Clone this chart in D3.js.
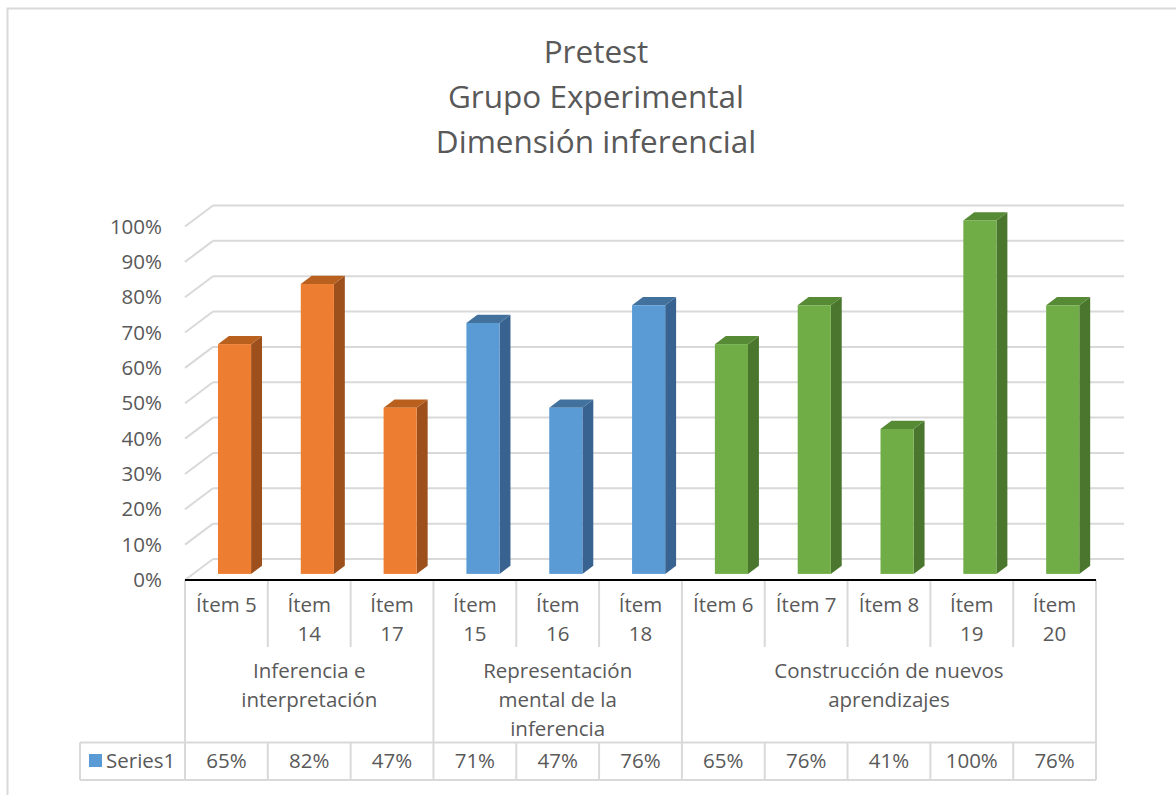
<!DOCTYPE html>
<html>
<head>
<meta charset="utf-8">
<script src="https://cdn.jsdelivr.net/npm/d3@7"></script>
<style>
  html, body { margin: 0; padding: 0; background: #fff; }
  svg { display: block; font-family: "Open Sans", Lato, sans-serif; }
</style>
</head>
<body>
<svg id="chart" width="1176" height="795"></svg>
<script>
// ---- data ----
const items = ["Ítem 5", "Ítem 14", "Ítem 17", "Ítem 15", "Ítem 16", "Ítem 18",
               "Ítem 6", "Ítem 7", "Ítem 8", "Ítem 19", "Ítem 20"];
const values = [0.65, 0.82, 0.47, 0.71, 0.47, 0.76, 0.65, 0.76, 0.41, 1.00, 0.76];
const groupOf = [0, 0, 0, 1, 1, 1, 2, 2, 2, 2, 2];
const groupLabels = [
  ["Inferencia e", "interpretación"],
  ["Representación", "mental de la", "inferencia"],
  ["Construcción de nuevos", "aprendizajes"]
];
const yTicks = [0, 0.1, 0.2, 0.3, 0.4, 0.5, 0.6, 0.7, 0.8, 0.9, 1.0];
const titleLines = ["Pretest", "Grupo Experimental", "Dimensión inferencial"];
const seriesName = "Series1";

// palette per group: front, top, side
const palettes = [
  { front: "#ED7D31", top: "#B9601F", side: "#9D4F1C" },
  { front: "#5B9BD5", top: "#41719C", side: "#386290" },
  { front: "#70AD47", top: "#568A34", side: "#4A762D" }
];
const textColor = "#595959";
const gridColor = "#D9D9D9";
const labelSize = 20.5;

const svg = d3.select("#chart");

// outer frame
svg.append("path")
  .attr("d", "M7.5,800 L7.5,8.5 L1180,8.5")
  .attr("fill", "none").attr("stroke", gridColor).attr("stroke-width", 2);

// title
svg.append("g").selectAll("text").data(titleLines).join("text")
  .attr("x", 596).attr("y", (d, i) => 63 + i * 45)
  .attr("text-anchor", "middle")
  .attr("fill", textColor)
  .attr("font-size", 31.5)
  .text(d => d);

// ---- geometry of the 3D plot ----
const left = 185, right = 1096, floorY = 580;
const depth = { dx: 28, dy: -21 };         // floor depth vector (front -> back)
const barDepth = [0.29, 0.68];             // bar spans this fraction of the floor depth

const x = d3.scaleBand().domain(d3.range(items.length)).range([left, right]).paddingInner(0).paddingOuter(0);
const y = d3.scaleLinear().domain([0, 1]).range([floorY, floorY - 353.5]);
const barW = x.bandwidth() * 0.4;

// gridlines (back wall + left side wall)
const grid = svg.append("g");
yTicks.forEach(t => {
  const yf = y(t), yb = y(t) + depth.dy;
  grid.append("line")
    .attr("x1", left + depth.dx).attr("x2", right + depth.dx)
    .attr("y1", yb).attr("y2", yb)
    .attr("stroke", gridColor).attr("stroke-width", 2);
  grid.append("line")
    .attr("x1", left).attr("x2", left + depth.dx)
    .attr("y1", yf).attr("y2", yb)
    .attr("stroke", gridColor).attr("stroke-width", 2);
});

// y axis labels
svg.append("g").selectAll("text").data(yTicks).join("text")
  .attr("x", 162).attr("y", d => y(d))
  .attr("dy", "0.35em")
  .attr("text-anchor", "end")
  .attr("fill", textColor)
  .attr("font-size", labelSize)
  .text(d => d3.format(".0%")(d));

// bars (front, top, side faces)
const bars = svg.append("g");
values.forEach((v, i) => {
  const pal = palettes[groupOf[i]];
  const cx = x(i) + x.bandwidth() / 2;
  const fdx = depth.dx * barDepth[0], fdy = depth.dy * barDepth[0];
  const bdx = depth.dx * barDepth[1], bdy = depth.dy * barDepth[1];
  const x0 = cx - barW / 2 + fdx, x1 = cx + barW / 2 + fdx;
  const yb = y(0) + fdy, yt = y(v) + fdy;
  const ox = bdx - fdx, oy = bdy - fdy;
  // side
  bars.append("path")
    .attr("d", `M${x1},${yb} L${x1 + ox},${yb + oy} L${x1 + ox},${yt + oy} L${x1},${yt} Z`)
    .attr("fill", pal.side);
  // top
  bars.append("path")
    .attr("d", `M${x0},${yt} L${x1},${yt} L${x1 + ox},${yt + oy} L${x0 + ox},${yt + oy} Z`)
    .attr("fill", pal.top);
  // front
  bars.append("rect")
    .attr("x", x0).attr("y", yt).attr("width", barW).attr("height", yb - yt)
    .attr("fill", pal.front);
});

// ---- data table under the axis ----
const table = svg.append("g");
const rowItemBottom = 647, rowGroupBottom = 742.5, rowSeriesBottom = 780;
const legendLeft = 80;

function vline(xp, y1, y2) {
  table.append("line").attr("x1", xp).attr("x2", xp).attr("y1", y1).attr("y2", y2)
    .attr("stroke", gridColor).attr("stroke-width", 2);
}
function hline(x1, x2, yp) {
  table.append("line").attr("x1", x1).attr("x2", x2).attr("y1", yp).attr("y2", yp)
    .attr("stroke", gridColor).attr("stroke-width", 2);
}

// column separators
d3.range(items.length + 1).forEach(i => {
  const xp = i < items.length ? x(i) : right;
  const isGroupEdge = i === 0 || i === items.length || groupOf[i] !== groupOf[i - 1];
  vline(xp, floorY, isGroupEdge ? rowSeriesBottom : rowItemBottom);
  if (!isGroupEdge) vline(xp, rowGroupBottom, rowSeriesBottom);
});
vline(legendLeft, rowGroupBottom, rowSeriesBottom);
hline(legendLeft, right, rowGroupBottom);
hline(legendLeft, right, rowSeriesBottom);

// category axis line
svg.append("line")
  .attr("x1", left).attr("x2", right).attr("y1", floorY).attr("y2", floorY)
  .attr("stroke", "#000").attr("stroke-width", 2);

// item labels (two-digit items wrap onto a second line)
table.append("g").selectAll("text").data(items).join("text")
  .attr("x", (d, i) => x(i) + x.bandwidth() / 2)
  .attr("y", 612)
  .attr("text-anchor", "middle")
  .attr("fill", textColor)
  .attr("font-size", labelSize)
  .each(function(d) {
    const lines = d.length > 6 ? d.split(" ") : [d];
    d3.select(this).selectAll("tspan").data(lines).join("tspan")
      .attr("x", d3.select(this).attr("x"))
      .attr("dy", (l, k) => k === 0 ? 0 : 29)
      .text(l => l);
  });

// group labels
groupLabels.forEach((lines, g) => {
  const idx = d3.range(items.length).filter(i => groupOf[i] === g);
  const gx0 = x(idx[0]), gx1 = x(idx[idx.length - 1]) + x.bandwidth();
  const t = table.append("text")
    .attr("x", (gx0 + gx1) / 2).attr("y", 678)
    .attr("text-anchor", "middle")
    .attr("fill", textColor)
    .attr("font-size", labelSize);
  t.selectAll("tspan").data(lines).join("tspan")
    .attr("x", (gx0 + gx1) / 2)
    .attr("dy", (l, k) => k === 0 ? 0 : 29)
    .text(l => l);
});

// series row: legend key and values
table.append("rect").attr("x", 89).attr("y", 754).attr("width", 13).attr("height", 13)
  .attr("fill", palettes[1].front);
table.append("text").attr("x", 106).attr("y", 768)
  .attr("fill", textColor).attr("font-size", labelSize).text(seriesName);
table.append("g").selectAll("text").data(values).join("text")
  .attr("x", (d, i) => x(i) + x.bandwidth() / 2)
  .attr("y", 768)
  .attr("text-anchor", "middle")
  .attr("fill", textColor)
  .attr("font-size", labelSize)
  .text(d => d3.format(".0%")(d));
</script>
</body>
</html>
